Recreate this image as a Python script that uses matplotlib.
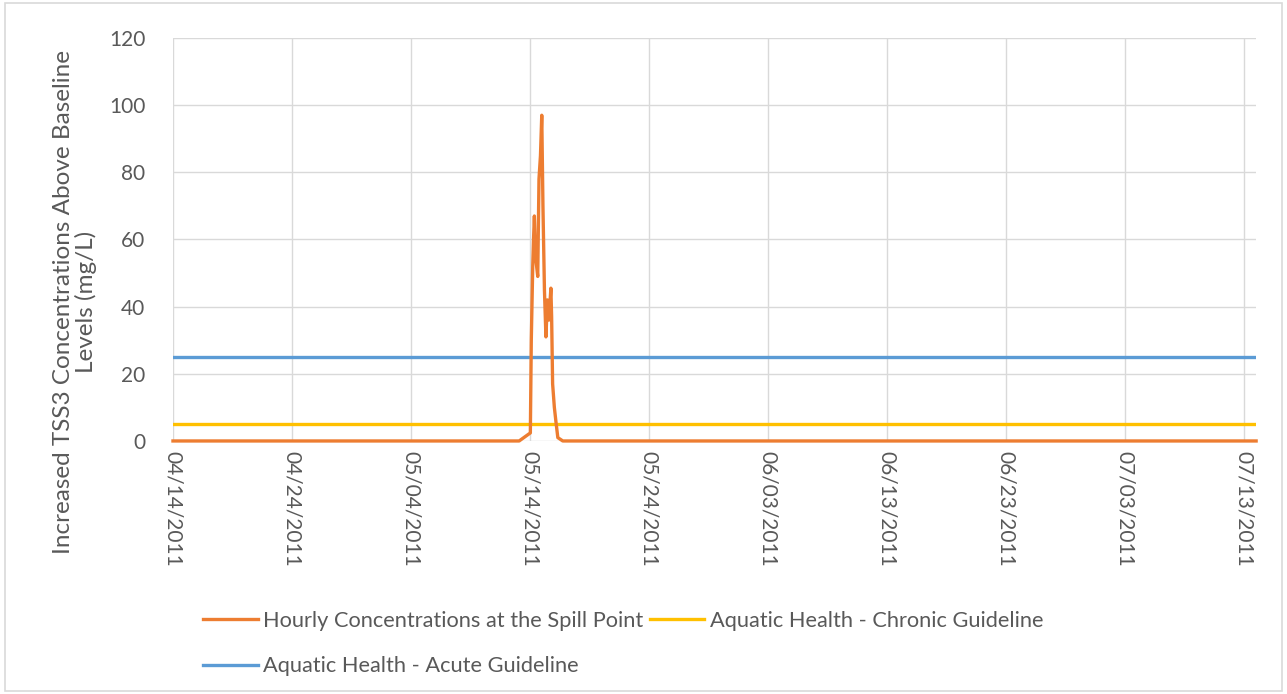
import matplotlib
matplotlib.use("Agg")
import matplotlib.pyplot as plt
import matplotlib.dates as mdates
from matplotlib.patches import Rectangle
from datetime import datetime, timedelta

plt.rcParams['font.family'] = ['Lato', 'DejaVu Sans']

# spill-point concentrations (hours after 05/14/2011 00:00 -> mg/L)
spike_hours = [-22, 0.6, 2.5, 5.4, 7.0, 8.7, 11.0, 15.5, 18.0, 21.0, 23.6,
               26.0, 29.0, 32.0, 35.0, 38.0, 42.0, 43.5, 45.5, 49.0, 52.0, 56.0, 66.0]
spike_vals = [0, 2.4, 30, 52, 60, 67, 55, 49, 78, 85, 97,
              70, 45, 31, 42, 36, 45.5, 37, 17, 10, 6, 1, 0]

start = datetime(2011, 4, 14)
end = datetime(2011, 7, 14)
chronic = 5
acute = 25

ticks = [start + timedelta(days=10 * i) for i in range(10)]
yticks = [0, 20, 40, 60, 80, 100, 120]

base = datetime(2011, 5, 14)
t = [start] + [base + timedelta(hours=h) for h in spike_hours] + [end]
v = [0] + spike_vals + [0]

fig = plt.figure(figsize=(12.87, 6.94), dpi=100)
ax = fig.add_axes([0.1344, 0.3646, 0.8416, 0.5806])

grey = '#595959'
l1, = ax.plot(t, v, color='#ED7D31', lw=2.4, solid_joinstyle='round', clip_on=False,
              label='Hourly Concentrations at the Spill Point', zorder=4)
l2, = ax.plot([start, end], [chronic, chronic], color='#FFC000', lw=2.4,
              label='Aquatic Health - Chronic Guideline', zorder=3)
l3, = ax.plot([start, end], [acute, acute], color='#5B9BD5', lw=2.4,
              label='Aquatic Health - Acute Guideline', zorder=3)

ax.set_xlim(start, end)
ax.set_ylim(0, 120)
ax.set_xticks(ticks)
ax.xaxis.set_major_formatter(mdates.DateFormatter('%m/%d/%Y'))
ax.set_yticks(yticks)
ax.grid(True, color='#D9D9D9', lw=1)
ax.set_axisbelow(True)
for s in ax.spines.values():
    s.set_visible(False)
ax.tick_params(length=0, colors=grey, labelsize=15)
ax.tick_params(axis='x', pad=7)
ax.tick_params(axis='y', pad=20)
for lab in ax.get_xticklabels():
    lab.set_rotation(270)
    lab.set_va('top')
    lab.set_ha('center')

fig.text(75 / 1287, 1 - 302 / 694,
         'Increased TSS3 Concentrations Above Baseline\nLevels (mg/L)',
         rotation=90, ha='center', va='center', multialignment='center',
         color=grey, fontsize=17.5, linespacing=1.1)

fig.legend([l1, l3, l2], [l1.get_label(), l3.get_label(), l2.get_label()],
           ncol=2, loc='upper left', bbox_to_anchor=(0.151, 0.132),
           frameon=False, fontsize=15.7, labelcolor=grey, handlelength=2.5,
           handletextpad=0.25, columnspacing=0.3, labelspacing=1.15,
           borderaxespad=0)

fig.patches.append(Rectangle((0.004, 0.004), 0.992, 0.992, transform=fig.transFigure,
                             fill=False, edgecolor='#D9D9D9', lw=1.2))

fig.savefig('out.png', dpi=100)
